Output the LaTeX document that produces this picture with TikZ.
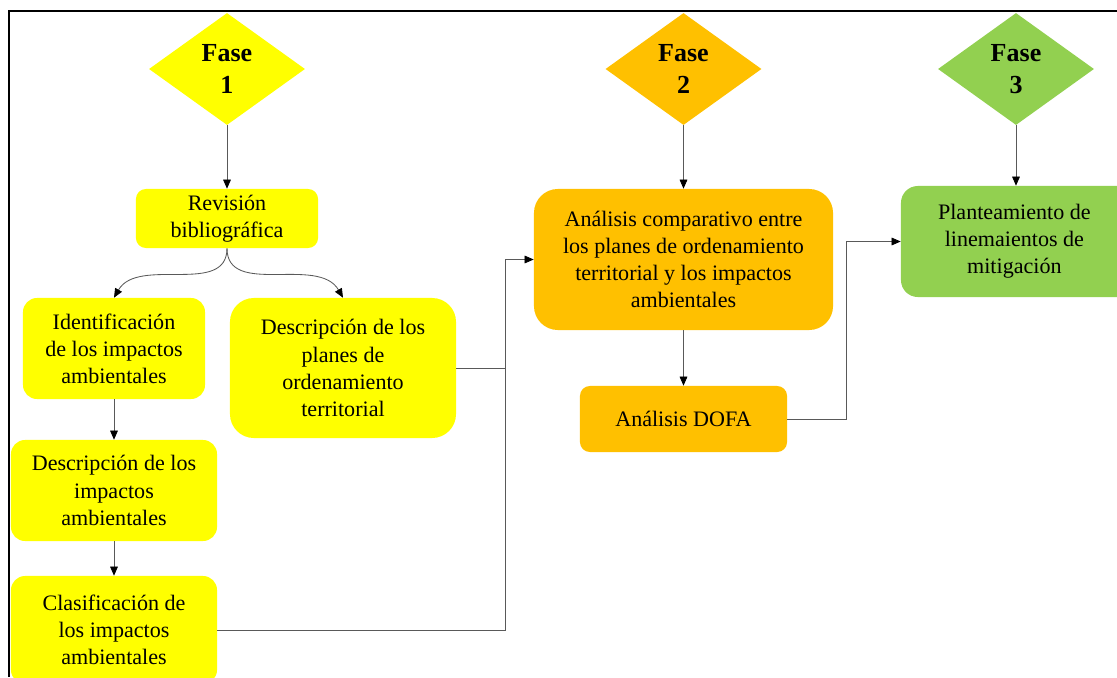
\documentclass[tikz,border=0pt]{standalone}
\usepackage{fontspec}
\setmainfont{Liberation Serif}
\usetikzlibrary{shapes.geometric, positioning, arrows.meta}

\definecolor{faseyellow}{HTML}{FFFF00}
\definecolor{faseorange}{HTML}{FFC000}
\definecolor{fasegreen}{HTML}{92D050}

\begin{document}
\begin{tikzpicture}[
            x=0.025cm, y=-0.025cm,
            phase/.style={diamond, inner sep=0pt, minimum width=3.9cm, minimum height=2.8cm, align=center, font=\fontsize{18.5}{22.7}\selectfont\bfseries},
            stage/.style={rounded corners=#1, align=center, inner sep=2pt, font=\fontsize{15.7}{19.3}\selectfont},
            stage/.default=12pt,
            arrow/.style={-{Triangle[length=6.5pt, width=5.5pt, color=black]}, draw=black!65, line width=0.6pt},
            link/.style={draw=black!65, line width=0.6pt}
        ]
            \useasboundingbox (0,0) rectangle (1117,677);
            \clip (0,0) rectangle (1117,677);

            % Frame
            \draw[line width=1.5pt] (9,677) -- (9,11) -- (1117,11);

            % Phases
            \node[phase, fill=faseyellow] (f1) at (227,69) {Fase\\1};
            \node[phase, fill=faseorange] (f2) at (683.5,69) {Fase\\2};
            \node[phase, fill=fasegreen] (f3) at (1016,69) {Fase\\3};

            % Phase 1
            \node[stage=7pt, fill=faseyellow, minimum width=4.55cm, minimum height=1.475cm] (rev) at (227,218.5) {Revisión\\bibliográfica};
            \node[stage=10pt, fill=faseyellow, minimum width=4.55cm, minimum height=2.525cm] (ident) at (114,348.5) {Identificación\\de los impactos\\ambientales};
            \node[stage=17pt, fill=faseyellow, minimum width=5.65cm, minimum height=3.5cm] (descplan) at (343,368) {Descripción de los\\planes de\\ordenamiento\\territorial};
            \node[stage=10pt, fill=faseyellow, minimum width=5.15cm, minimum height=2.525cm] (descimp) at (114,490.5) {Descripción de los\\impactos\\ambientales};
            \node[stage=10pt, fill=faseyellow, minimum width=5.15cm, minimum height=2.7cm] (clasif) at (114,630) {Clasificación de\\los impactos\\ambientales};

            % Phase 2
            \node[stage=17pt, fill=faseorange, minimum width=7.475cm, minimum height=3.525cm] (comp) at (683.5,259.5) {Análisis comparativo entre\\los planes de ordenamiento\\territorial y los impactos\\ambientales};
            \node[stage=7pt, fill=faseorange, minimum width=5.175cm, minimum height=1.65cm] (dofa) at (683.5,419) {Análisis DOFA};

            % Phase 3
            \node[stage=12pt, fill=fasegreen, minimum width=5.95cm, minimum height=2.775cm] (plant) at (1020,241.5) {\hspace*{-8pt}Planteamiento de\\\hspace*{-8pt}linemaientos de\\\hspace*{-8pt}mitigación};

            \coordinate (merge) at (505,259.5);
            \coordinate (bend) at (846,241.5);

            % Arrows phase 1
            \draw[arrow] (f1) -- (rev);
            \draw[arrow] (rev.south) to[out=-90, in=60] (ident.north);
            \draw[arrow] (rev.south) to[out=-90, in=120] (descplan.north);
            \draw[arrow] (ident) -- (descimp);
            \draw[arrow] (descimp) -- (clasif);

            % Into phase 2
            \draw[link] (clasif.east) -| (merge);
            \draw[arrow] (descplan.east) -| (merge) -- (comp.west);
            \draw[arrow] (f2) -- (comp);
            \draw[arrow] (comp) -- (dofa);

            % Into phase 3
            \draw[arrow] (dofa.east) -| (bend) -- (plant.west);
            \draw[arrow] (f3) -- (f3 |- plant.north);

        \end{tikzpicture}
\end{document}
